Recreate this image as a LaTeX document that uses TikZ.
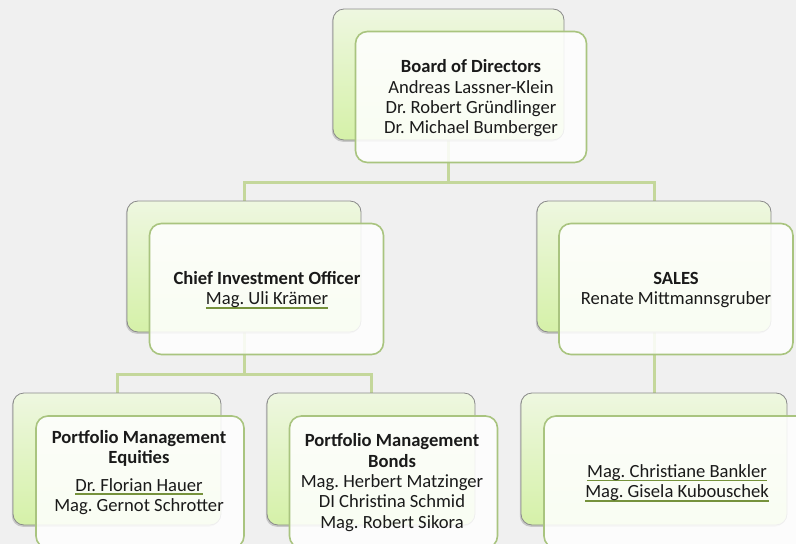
\documentclass[tikz,border=0pt]{standalone}
\usepackage{fontspec}
\setmainfont{Carlito}
\frenchspacing
\usetikzlibrary{shadows,backgrounds}
\definecolor{bgc}{HTML}{F0F0F0}
\definecolor{connc}{HTML}{C4D79B}
\definecolor{frontline}{HTML}{A9C47F}
\definecolor{backline}{HTML}{8A8A8A}
\definecolor{gtop}{HTML}{EEF7E0}
\definecolor{gbot}{HTML}{D5F1A8}
\definecolor{ulgreen}{HTML}{76923C}
\definecolor{txt}{HTML}{1A1A1A}
\newcommand\gul[1]{\setbox0\hbox{#1}\rlap{\textcolor{ulgreen}{\rule[-4pt]{\wd0}{1.8pt}}}\box0}
\tikzset{
  backbox/.style={draw=backline, line width=0.8pt, rounded corners=11pt,
    top color=gtop, bottom color=gbot, inner sep=0pt,
    drop shadow={shadow xshift=-1.2pt, shadow yshift=-1.8pt, opacity=0.35}},
  frontbox/.style={draw=frontline, line width=1.6pt, rounded corners=12pt,
    fill=white, fill opacity=0.86, inner sep=0pt},
  lbl/.style={text=txt, align=center, inner sep=0pt, font=\fontsize{18.6}{20.3}\selectfont},
  conn/.style={draw=connc, line width=3pt}
}
\begin{document}
\begin{tikzpicture}[x=1pt,y=-1pt]
\useasboundingbox (0,0) rectangle (796,544);
\clip (0,0) rectangle (796,544);
% boxes
\node[backbox, minimum width=231pt, minimum height=131pt] (topB) at (448.5,74.5) {};
\node[frontbox, minimum width=231pt, minimum height=131pt] (topF) at (471,97) {};
\node[backbox, minimum width=234pt, minimum height=131pt] (cioB) at (244,266.5) {};
\node[frontbox, minimum width=234pt, minimum height=131pt] (cioF) at (266.5,289) {};
\node[backbox, minimum width=234pt, minimum height=131pt] (salesB) at (654,266.5) {};
\node[frontbox, minimum width=234pt, minimum height=131pt] (salesF) at (676,289) {};
\node[backbox, minimum width=208pt, minimum height=132pt] (pmeB) at (117,459) {};
\node[frontbox, minimum width=208pt, minimum height=132pt] (pmeF) at (140,482) {};
\node[backbox, minimum width=208pt, minimum height=132pt] (pmbB) at (371,459) {};
\node[frontbox, minimum width=208pt, minimum height=132pt] (pmbF) at (393.5,482) {};
\node[backbox, minimum width=266pt, minimum height=132pt] (teamB) at (654,459) {};
\node[frontbox, minimum width=266pt, minimum height=132pt] (teamF) at (677,482) {};
% texts
\node[lbl] (topT) at (471,98.5) {\textbf{Board of Directors}\\Andreas Lassner-Klein\\Dr. Robert Gründlinger\\Dr. Michael Bumberger};
\node[lbl] (cioT) at (267,290) {\textbf{Chief Investment Officer}\\\gul{Mag. Uli Krämer}};
\node[lbl] (salesT) at (676,290) {\textbf{SALES}\\Renate Mittmannsgruber};
\node[lbl] (pmeT) at (139,472.5) {\textbf{Portfolio Management}\\\textbf{Equities}\\[7pt]\gul{Dr. Florian Hauer}\\Mag. Gernot Schrotter};
\node[lbl] (pmbT) at (392,482.5) {\textbf{Portfolio Management}\\\textbf{Bonds}\\Mag. Herbert Matzinger\\DI Christina Schmid\\Mag. Robert Sikora};
\node[lbl] (teamT) at (677,483) {\gul{Mag. Christiane Bankler}\\\gul{Mag. Gisela Kubouschek}};
% background and connectors
\begin{scope}[on background layer]
\fill[bgc] (0,0) rectangle (796,544);
\draw[conn] (topB.south) -- ++(0,42) coordinate (j1) -| (cioB.north);
\draw[conn] (j1) -| (salesB.north);
\draw[conn] (cioB.south) -- ++(0,42) coordinate (j2) -| (pmeB.north);
\draw[conn] (j2) -| (pmbB.north);
\draw[conn] (salesB.south) -- (teamB.north);
\end{scope}
\end{tikzpicture}
\end{document}
